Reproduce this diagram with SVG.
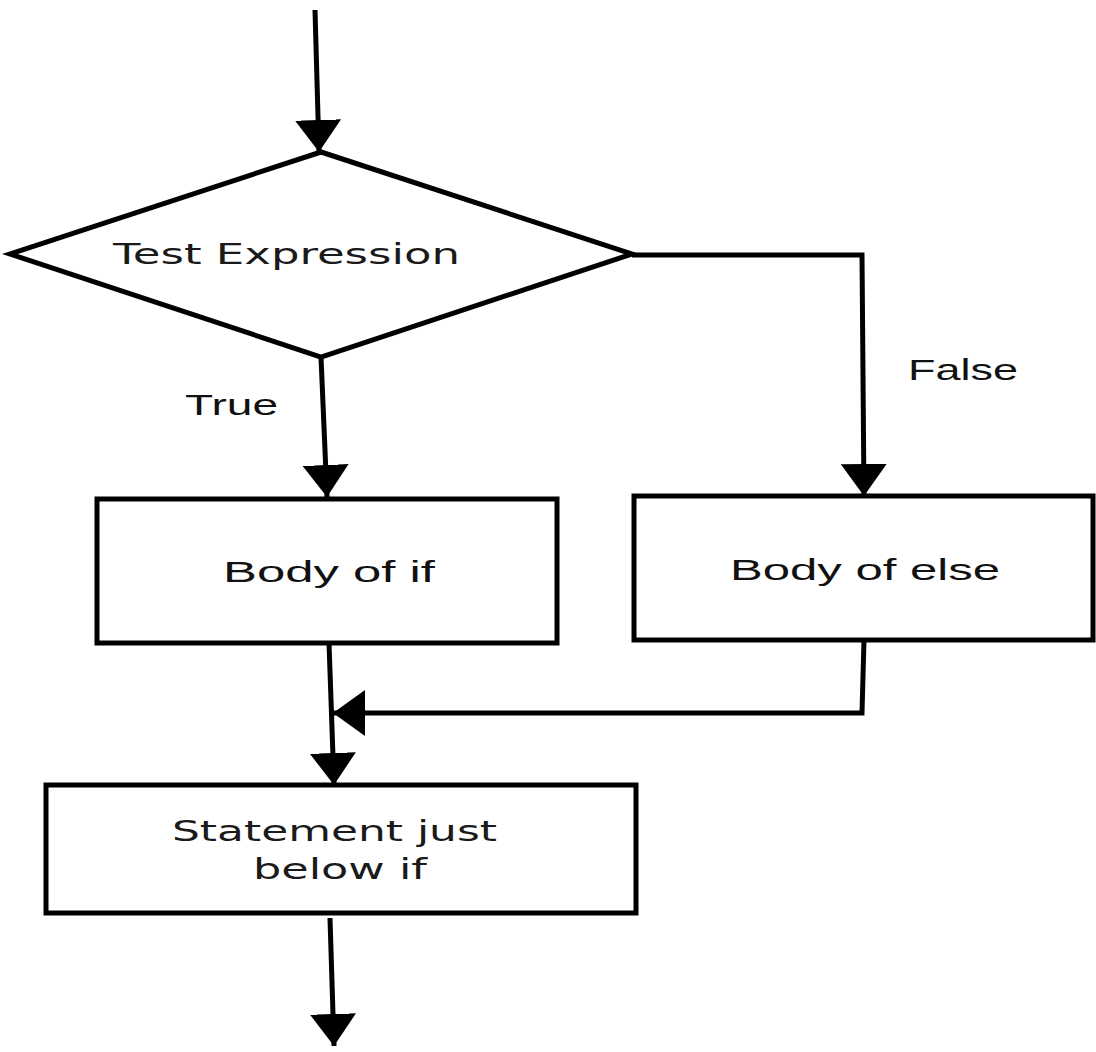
<svg xmlns="http://www.w3.org/2000/svg" width="1096" height="1052" viewBox="0 0 1096 1052">
  <style>
    .shape { fill: #ffffff; stroke: #000000; stroke-width: 5; }
    .wire { fill: none; stroke: #000000; stroke-width: 5; marker-end: url(#head); }
    .dv { font-family: "DejaVu Sans", sans-serif; font-size: 28px; fill: #1a1a1a; }
    .lb { font-family: "Liberation Sans", Arial, sans-serif; font-size: 30px; fill: #111111; }
  </style>
  <defs>
    <marker id="head" markerUnits="userSpaceOnUse" markerWidth="32" markerHeight="46" refX="32" refY="23" orient="auto">
      <path d="M0,0 L32,23 L0,46 z" fill="#000000"/>
    </marker>
  </defs>

  <rect width="1096" height="1052" fill="#ffffff"/>

  <g id="connectors">
    <path class="wire" d="M315,10 L319,152"/>
    <path class="wire" d="M321,357 L327,497"/>
    <path class="wire" d="M632,255 L862,255 L864,496"/>
    <path class="wire" d="M864,640 L862,713 L333,713"/>
    <path class="wire" d="M329,643 L334,785"/>
    <path class="wire" d="M330,918 L334,1046"/>
  </g>

  <g id="test-expression">
    <polygon class="shape" points="321,152 632,254 321,357 10,254"/>
    <text class="dv" x="113" y="264" textLength="347" lengthAdjust="spacingAndGlyphs">Test Expression</text>
  </g>

  <g id="label-true">
    <text class="lb" x="185" y="415" textLength="93" lengthAdjust="spacingAndGlyphs">True</text>
  </g>

  <g id="label-false">
    <text class="lb" x="908" y="380" textLength="110" lengthAdjust="spacingAndGlyphs">False</text>
  </g>

  <g id="body-of-if">
    <rect class="shape" x="97" y="499" width="460" height="144"/>
    <text class="lb" x="223" y="582" textLength="212" lengthAdjust="spacingAndGlyphs">Body of if</text>
  </g>

  <g id="body-of-else">
    <rect class="shape" x="634" y="496" width="459" height="144"/>
    <text class="lb" x="730" y="580" textLength="270" lengthAdjust="spacingAndGlyphs">Body of else</text>
  </g>

  <g id="statement-below">
    <rect class="shape" x="46" y="785" width="590" height="128"/>
    <text class="dv" x="172" y="841" textLength="325" lengthAdjust="spacingAndGlyphs">Statement just</text>
    <text class="dv" x="253" y="879" textLength="174" lengthAdjust="spacingAndGlyphs">below if</text>
  </g>
</svg>
